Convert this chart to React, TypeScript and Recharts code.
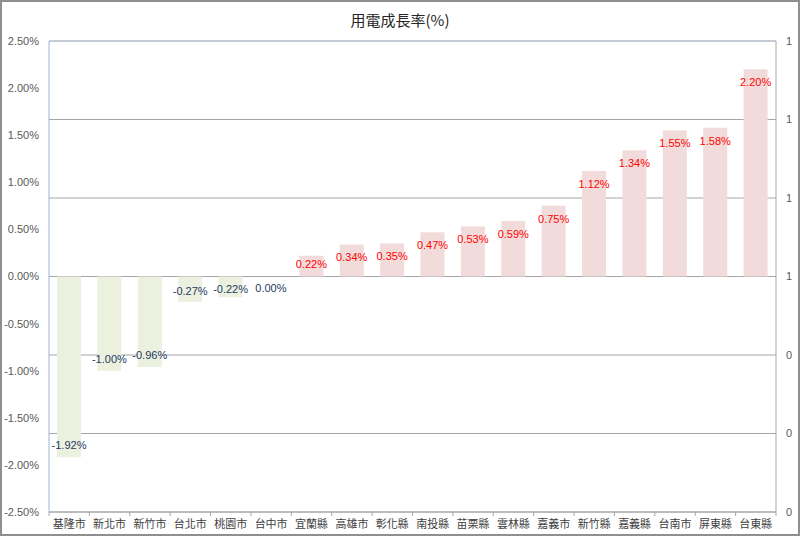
import React from 'react';
import { ComposedChart, Bar, XAxis, YAxis, CartesianGrid, Cell, LabelList, ReferenceLine } from 'recharts';

const categories = ['基隆市', '新北市', '新竹市', '台北市', '桃園市', '台中市', '宜蘭縣', '高雄市', '彰化縣', '南投縣', '苗栗縣', '雲林縣', '嘉義市', '新竹縣', '嘉義縣', '台南市', '屏東縣', '台東縣'];
const growthValues = [-1.92, -1.0, -0.96, -0.27, -0.22, 0.0, 0.22, 0.34, 0.35, 0.47, 0.53, 0.59, 0.75, 1.12, 1.34, 1.55, 1.58, 2.2];
const leftTicks = [-2.5, -2.0, -1.5, -1.0, -0.5, 0, 0.5, 1.0, 1.5, 2.0, 2.5];
const rightTicks = [0, 0.2, 0.4, 0.6, 0.8, 1.0, 1.2];
const title = '用電成長率(%)';

const data = categories.map((name, i) => ({ name, value: growthValues[i] }));

const FONT = '"Liberation Sans", "Noto Sans CJK TC", sans-serif';
const CJK = '"Noto Sans CJK TC", "Liberation Sans", sans-serif';
const POS_BAR = '#f2dcdb';
const NEG_BAR = '#ebf1de';
const POS_TEXT = '#ff0000';
const NEG_TEXT = '#1f3864';

const renderValueLabel = (props: any) => {
  const { x, y, width, height, value } = props;
  const v = Number(value);
  const top = Math.min(y, y + height);
  const bottom = Math.max(y, y + height);
  const h = bottom - top;
  const cx = x + width / 2;
  let cy: number;
  if (v > 0) {
    cy = top + Math.min(13, h / 2 - 2);
  } else if (v < 0) {
    cy = bottom - Math.min(12, h / 2 - 2);
  } else {
    cy = bottom + 12;
  }
  return (
    <text x={cx} y={cy} dy="0.35em" textAnchor="middle" fontSize={11} fontFamily={FONT} fill={v > 0 ? POS_TEXT : NEG_TEXT}>
      {v.toFixed(2) + '%'}
    </text>
  );
};

const XTick = (props: any) => {
  const { x, y, payload, index, visibleTicksCount } = props;
  const off = payload && payload.offset ? payload.offset : 20.2;
  const last = index === (visibleTicksCount ?? categories.length) - 1;
  return (
    <g>
      <line x1={x - off} x2={x - off} y1={y} y2={y + 4} stroke="#a6a6a6" />
      {last && <line x1={x + off} x2={x + off} y1={y} y2={y + 4} stroke="#a6a6a6" />}
      <text x={x} y={y + 12} dy="0.35em" textAnchor="middle" fontSize={11} fontFamily={CJK} fill="#404040">
        {payload.value}
      </text>
    </g>
  );
};

export default function App() {
  return (
    <div style={{ position: 'absolute', left: 0, top: 0, width: 800, height: 536, background: '#fff' }}>
      <div style={{ position: 'absolute', left: 0, top: 9, width: 800, textAlign: 'center', fontFamily: CJK, fontSize: 15, color: '#262626' }}>
        {title}
      </div>
      <ComposedChart width={800} height={536} data={data} margin={{ top: 41, right: 0, bottom: 0, left: 0 }}>
        <CartesianGrid yAxisId="right" vertical={false} stroke="#a6a6a6" />
        <ReferenceLine yAxisId="right" y={1.2} stroke="#b8c4d6" />
        <XAxis
          dataKey="name"
          height={24}
          tickSize={0}
          tickMargin={0}
          tickLine={false}
          axisLine={{ stroke: '#a6a6a6' }}
          tick={<XTick />}
          interval={0}
        />
        <YAxis
          yAxisId="left"
          width={49}
          domain={[-2.5, 2.5]}
          ticks={leftTicks}
          tickFormatter={(v: number) => v.toFixed(2) + '%'}
          tickLine={false}
          tickSize={0}
          tickMargin={10}
          axisLine={{ stroke: '#9db5d6' }}
          tick={{ fontSize: 11, fontFamily: FONT, fill: '#595959' }}
          allowDataOverflow
        />
        <YAxis
          yAxisId="right"
          orientation="right"
          width={24}
          domain={[0, 1.2]}
          ticks={rightTicks}
          tickFormatter={(v: number) => String(Math.round(v))}
          tickLine={false}
          tickSize={0}
          tickMargin={10}
          axisLine={{ stroke: '#a6a6a6' }}
          tick={{ fontSize: 11, fontFamily: FONT, fill: '#595959', textAnchor: 'start' }}
          allowDataOverflow
        />
        <Bar yAxisId="left" dataKey="value" barSize={24} minPointSize={0.01} isAnimationActive={false}>
          {data.map((d, i) => (
            <Cell key={i} fill={d.value >= 0 ? POS_BAR : NEG_BAR} />
          ))}
          <LabelList dataKey="value" content={renderValueLabel} />
        </Bar>
      </ComposedChart>
      <div style={{ position: 'absolute', left: 0, top: 0, width: 800, height: 536, boxSizing: 'border-box', border: '2px solid #8f8f8f', pointerEvents: 'none' }} />
    </div>
  );
}
